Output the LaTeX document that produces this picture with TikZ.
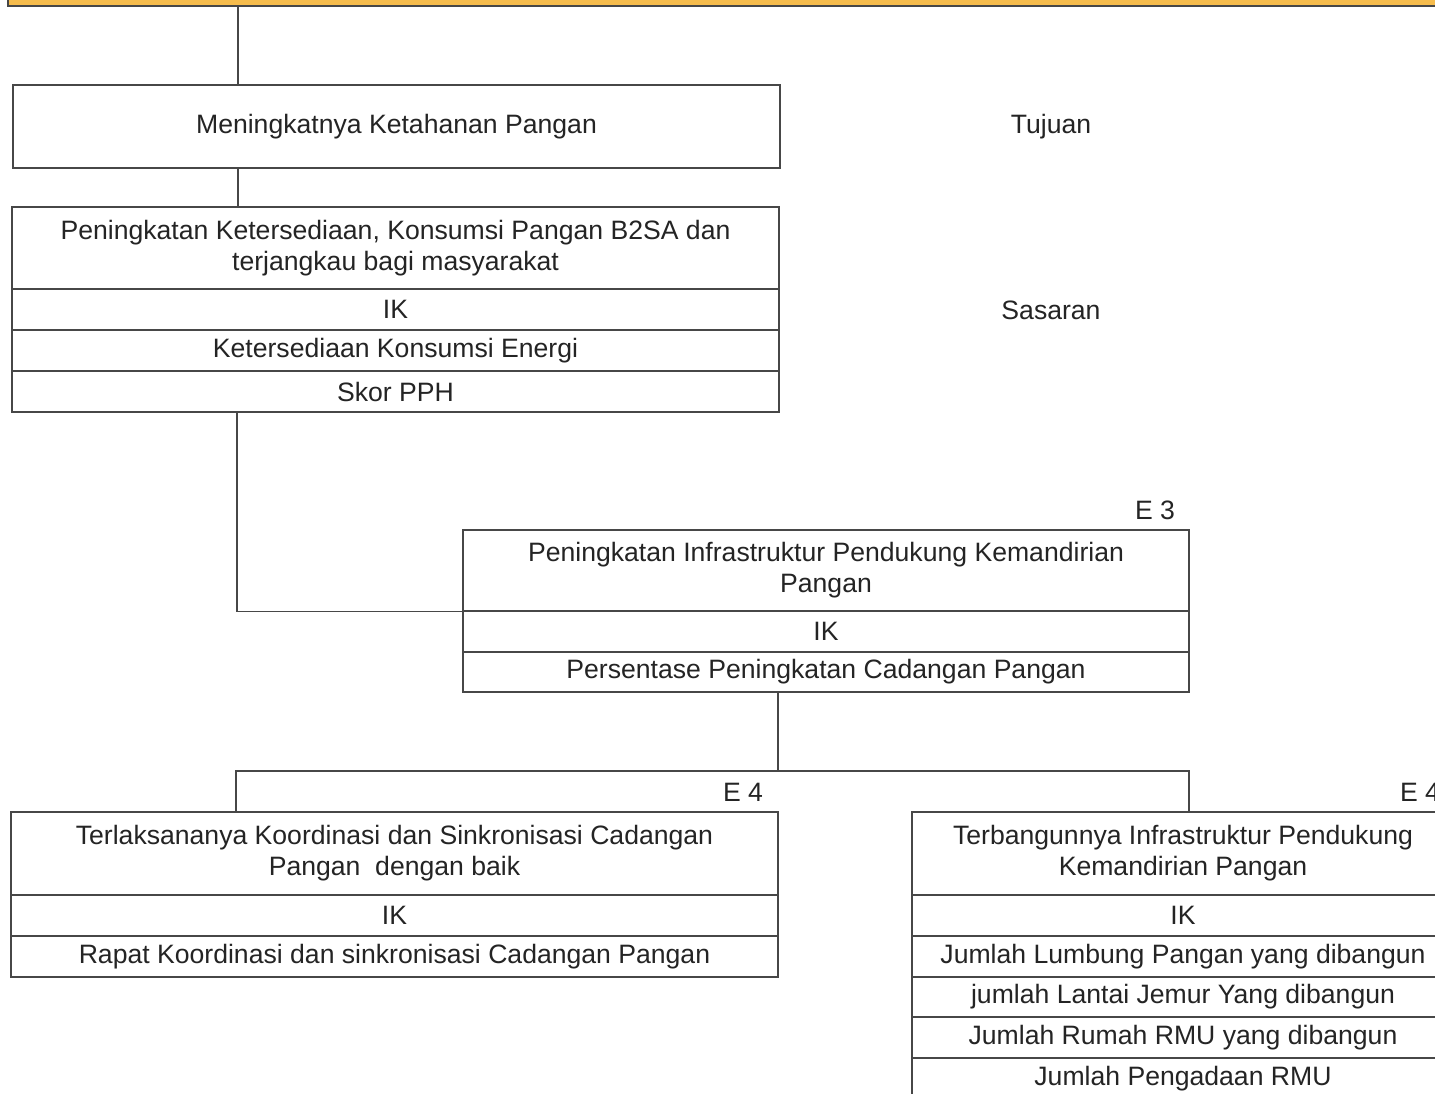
\documentclass[tikz,border=0pt]{standalone}
\usepackage{fontspec}
\setmainfont{Liberation Sans}
\definecolor{barorange}{HTML}{F6BC4C}
\definecolor{linegray}{HTML}{474747}
\definecolor{txt}{HTML}{242424}
\begin{document}
\begin{tikzpicture}[x=1pt,y=-1pt,
  cell/.style={draw=linegray,line width=1.3pt,inner sep=0pt,align=center,text=txt,
    font=\fontsize{26.6}{31}\selectfont},
  lbl/.style={inner sep=0pt,text=txt,font=\fontsize{26.6}{31}\selectfont},
  conn/.style={draw=linegray,line width=1.3pt}]
\useasboundingbox (0,0) rectangle (1435,1094);
\clip (0,0) rectangle (1435,1094);
\fill[white] (0,0) rectangle (1435,1094);
% top bar
\filldraw[fill=barorange,draw=linegray,line width=1.3pt] (8,-10) rectangle (1445,6);
\coordinate (barpt) at (238,6);
% box 1
\node[cell,minimum width=767pt,minimum height=83pt] (b1) at (396.5,126.5) {Meningkatnya Ketahanan Pangan};
% box 2
\node[cell,minimum width=767pt,minimum height=82pt] (b2a) at (395.5,248) {Peningkatan Ketersediaan, Konsumsi Pangan B2SA dan\\terjangkau bagi masyarakat};
\node[cell,minimum width=767pt,minimum height=41pt] (b2b) at (395.5,309.5) {IK};
\node[cell,minimum width=767pt,minimum height=41pt] (b2c) at (395.5,350.5) {Ketersediaan Konsumsi Energi};
\node[cell,minimum width=767pt,minimum height=41pt] (b2d) at (395.5,391.5) {Skor PPH};
% box 3
\node[cell,minimum width=726pt,minimum height=81pt] (b3a) at (826,570.5) {Peningkatan Infrastruktur Pendukung Kemandirian\\Pangan};
\node[cell,minimum width=726pt,minimum height=41pt] (b3b) at (826,631.5) {IK};
\node[cell,minimum width=726pt,minimum height=40pt] (b3c) at (826,672) {Persentase Peningkatan Cadangan Pangan};
% box 4
\node[cell,minimum width=767pt,minimum height=83pt] (b4a) at (394.5,853.5) {Terlaksananya Koordinasi dan Sinkronisasi Cadangan\\Pangan\ \ dengan baik};
\node[cell,minimum width=767pt,minimum height=41pt] (b4b) at (394.5,915.5) {IK};
\node[cell,minimum width=767pt,minimum height=41pt] (b4c) at (394.5,956.5) {Rapat Koordinasi dan sinkronisasi Cadangan Pangan};
% box 5
\node[cell,minimum width=542pt,minimum height=83pt] (b5a) at (1183,853.5) {Terbangunnya Infrastruktur Pendukung\\Kemandirian Pangan};
\node[cell,minimum width=542pt,minimum height=41pt] (b5b) at (1183,915.5) {IK};
\node[cell,minimum width=542pt,minimum height=41pt] (b5c) at (1183,956.5) {Jumlah Lumbung Pangan yang dibangun};
\node[cell,minimum width=542pt,minimum height=40pt] (b5d) at (1183,997) {jumlah Lantai Jemur Yang dibangun};
\node[cell,minimum width=542pt,minimum height=41pt] (b5e) at (1183,1037.5) {Jumlah Rumah RMU yang dibangun};
\node[cell,minimum width=542pt,minimum height=41pt] (b5f) at (1183,1078.5) {Jumlah Pengadaan RMU};
% labels
\node[lbl] (tujuan) at (1051,127) {Tujuan};
\node[lbl] (sasaran) at (1051,310) {Sasaran};
\node[lbl] (e3) at (1155,510) {E 3};
\node[lbl] (e4a) at (743,792) {E 4};
\node[lbl] (e4b) at (1420,792) {E 4};
% connectors
\coordinate (sp1) at (237,0);
\coordinate (jmid) at (778,771);
\coordinate (jl) at (236,771);
\coordinate (jr) at (1189,771);
\draw[conn] (barpt) -- (barpt |- b1.north);
\draw[conn] (b1.south -| barpt) -- (b2a.north -| barpt);
\draw[conn] (b2d.south -| sp1) |- (b3a.south west);
\draw[conn] (b3c.south -| jmid) -- (jmid);
\draw[conn] (b4a.north -| jl) -- (jl) -- (jr) -- (b5a.north -| jr);
\end{tikzpicture}
\end{document}
